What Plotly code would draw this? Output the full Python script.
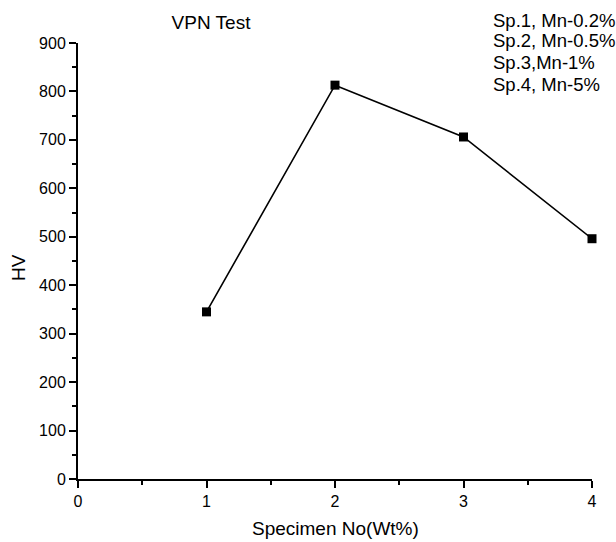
import plotly.graph_objects as go

specimens = [1, 2, 3, 4]
hv_values = [345, 813, 706, 496]
legend_lines = ["Sp.1, Mn-0.2%", "Sp.2, Mn-0.5%", "Sp.3,Mn-1%", "Sp.4, Mn-5%"]
x_ticks = [0, 1, 2, 3, 4]
y_ticks = [0, 100, 200, 300, 400, 500, 600, 700, 800, 900]

FONT = "Liberation Sans, Arial, sans-serif"
L, R, T, B = 78, 592, 43, 479
PW, PH = R - L, B - T

fig = go.Figure()
fig.add_trace(go.Scatter(
    x=specimens, y=hv_values, mode="lines+markers",
    line=dict(color="black", width=1.6),
    marker=dict(symbol="square", size=9, color="black"),
    cliponaxis=False, showlegend=False,
))

line_y = [20, 41, 62, 84]
for txt, py in zip(legend_lines, line_y):
    fig.add_annotation(
        text=txt, xref="paper", yref="paper",
        x=(491 - L) / PW, y=1 + (T - py) / PH,
        xanchor="left", yanchor="middle", showarrow=False,
        font=dict(family=FONT, size=18.5, color="black"), align="left",
    )

# axis titles
fig.add_annotation(
    text="Specimen No(Wt%)", xref="paper", yref="paper",
    x=(335 - L) / PW, y=-(528 - B) / PH, xanchor="center", yanchor="middle",
    showarrow=False, font=dict(family=FONT, size=19, color="black"),
)
fig.add_annotation(
    text="HV", xref="paper", yref="paper", textangle=-90,
    x=-(L - 18) / PW, y=(B - 268) / PH, xanchor="center", yanchor="middle",
    showarrow=False, font=dict(family=FONT, size=19, color="black"),
)

fig.update_layout(
    width=616, height=542,
    margin=dict(l=L, r=616 - R, t=T, b=542 - B, autoexpand=False),
    paper_bgcolor="white", plot_bgcolor="white",
    font=dict(family=FONT, size=16, color="black"),
    title=dict(text="VPN Test", x=211 / 616, xref="container", xanchor="center",
               y=1 - 22 / 542, yref="container", yanchor="middle",
               font=dict(family=FONT, size=19, color="black")),
)
fig.update_xaxes(
    range=[0, 4], tickvals=x_ticks, ticks="outside", ticklen=7, tickwidth=2,
    tickcolor="black", showline=True, linewidth=2, linecolor="black",
    showgrid=False, zeroline=False, automargin=False,
    minor=dict(dtick=0.5, ticks="outside", ticklen=4, tickwidth=2, tickcolor="black"),
    tickfont=dict(family=FONT, size=16),
)
fig.update_yaxes(
    range=[0, 900], tickvals=y_ticks, ticks="outside", ticklen=7, tickwidth=2,
    tickcolor="black", showline=True, linewidth=2, linecolor="black",
    showgrid=False, zeroline=False, automargin=False,
    minor=dict(dtick=50, ticks="outside", ticklen=4, tickwidth=2, tickcolor="black"),
    tickfont=dict(family=FONT, size=16),
)

fig.write_html("out.html", config={"displayModeBar": False},
               post_script="document.body.style.margin='0px';")
